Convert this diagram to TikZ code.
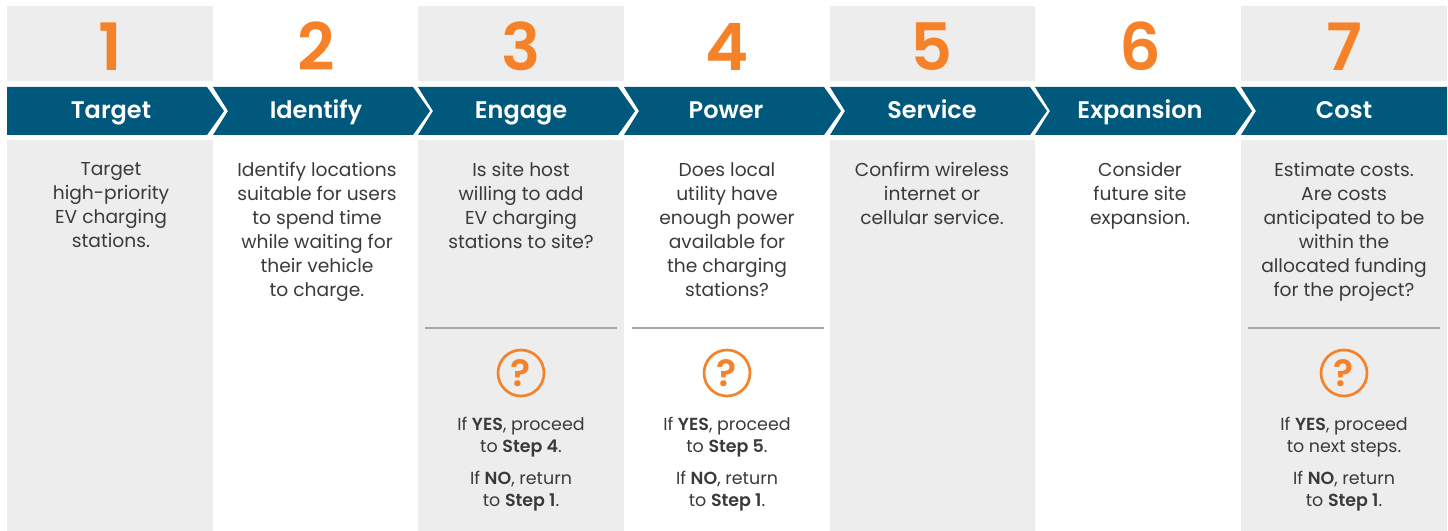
\documentclass[tikz,border=0pt]{standalone}
\usepackage{fontspec}
\setmainfont{Poppins}[BoldFont={Poppins SemiBold}]
\definecolor{PanelGray}{HTML}{EDEDED}
\definecolor{BarBlue}{HTML}{00587C}
\definecolor{StepOrange}{HTML}{F58229}
\definecolor{BodyInk}{HTML}{3A3A3A}
\definecolor{RuleGray}{HTML}{A6A6A6}

\begin{document}
\begin{tikzpicture}[x=0.75pt,y=-0.75pt,
    num/.style={text=StepOrange,font=\fontsize{49}{49}\selectfont\bfseries,inner sep=0pt,anchor=base},
    title/.style={text=white,font=\fontsize{18}{20}\selectfont\bfseries,inner sep=0pt,anchor=base},
    body/.style={text=BodyInk,font=\fontsize{14}{18}\selectfont,align=center,anchor=north,inner sep=0pt},
    answer/.style={text=BodyInk,font=\fontsize{13.1}{16.5}\selectfont,align=center,anchor=north,inner sep=0pt},
    quest/.style={circle,draw=StepOrange,line width=2pt,minimum size=34.5pt,inner sep=0pt,
      text=StepOrange,font=\fontsize{28}{28}\selectfont\bfseries},
    rule/.style={draw=RuleGray,line width=1pt}]
  \useasboundingbox (0,0) rectangle (1448,531);

  % Gray panels, top row and lower row
  \fill[PanelGray] (7,6) rectangle (213,81);
  \fill[PanelGray] (7,140) rectangle (213,531);
  \fill[PanelGray] (418,6) rectangle (624,81);
  \fill[PanelGray] (418,140) rectangle (624,531);
  \fill[PanelGray] (830,6) rectangle (1035,81);
  \fill[PanelGray] (830,140) rectangle (1035,531);
  \fill[PanelGray] (1241,6) rectangle (1447,81);
  \fill[PanelGray] (1241,140) rectangle (1447,531);

  % Chevron bar
  \fill[BarBlue] (7,87) -- (207,87) -- (224,111) -- (207,135) -- (7,135) -- cycle;
  \fill[BarBlue] (213,87) -- (413,87) -- (430,111) -- (413,135) -- (213,135) -- (228,111) -- cycle;
  \fill[BarBlue] (418,87) -- (618,87) -- (635,111) -- (618,135) -- (418,135) -- (433,111) -- cycle;
  \fill[BarBlue] (624,87) -- (824,87) -- (841,111) -- (824,135) -- (624,135) -- (639,111) -- cycle;
  \fill[BarBlue] (830,87) -- (1030,87) -- (1047,111) -- (1030,135) -- (830,135) -- (845,111) -- cycle;
  \fill[BarBlue] (1035,87) -- (1235,87) -- (1252,111) -- (1235,135) -- (1035,135) -- (1050,111) -- cycle;
  \fill[BarBlue] (1241,87) -- (1447,87) -- (1447,135) -- (1241,135) -- (1256,111) -- cycle;

  % Step numbers
  \node[num] (num1) at (110,70.5) {1};
  \node[num] (num2) at (316,70.5) {2};
  \node[num] (num3) at (521,70.5) {3};
  \node[num] (num4) at (727,70.5) {4};
  \node[num] (num5) at (932,70.5) {5};
  \node[num] (num6) at (1140,70.5) {6};
  \node[num] (num7) at (1344,70.5) {7};

  % Step titles
  \node[title] (title1) at (111,118.5) {Target};
  \node[title] (title2) at (316,118.5) {Identify};
  \node[title] (title3) at (521,118.5) {Engage};
  \node[title] (title4) at (726,118.5) {Power};
  \node[title] (title5) at (932,118.5) {Service};
  \node[title] (title6) at (1140,118.5) {Expansion};
  \node[title] (title7) at (1344,118.5) {Cost};

  % Step descriptions
  \node[body] (body1) at (111,162) {Target\\high-priority\\EV charging\\stations.};
  \node[body] (body2) at (317,162) {Identify locations\\suitable for users\\to spend time\\while waiting for\\their vehicle\\to charge.};
  \node[body] (body3) at (521,162) {Is site host\\willing to add\\EV charging\\stations to site?};
  \node[body] (body4) at (727,162) {Does local\\utility have\\enough power\\available for\\the charging\\stations?};
  \node[body] (body5) at (932,162) {Confirm wireless\\internet or\\cellular service.};
  \node[body] (body6) at (1140,162) {Consider\\future site\\expansion.};
  \node[body] (body7) at (1344,162) {Estimate costs.\\Are costs\\anticipated to be\\within the\\allocated funding\\for the project?};

  % Dividers
  \draw[rule] (425,328) -- (617,328);
  \draw[rule] (632,328) -- (824,328);
  \draw[rule] (1248,328) -- (1440,328);

  % Question marks
  \node[quest] (quest3) at (521,373) {?};
  \node[quest] (quest4) at (727,373) {?};
  \node[quest] (quest7) at (1344,373) {?};

  % Yes and no answers
  \node[answer] (yes3) at (521,417) {If \textbf{YES}, proceed\\to \textbf{Step 4}.};
  \node[answer] (no3) at (521,471) {If \textbf{NO}, return\\to \textbf{Step 1}.};
  \node[answer] (yes4) at (727,417) {If \textbf{YES}, proceed\\to \textbf{Step 5}.};
  \node[answer] (no4) at (727,471) {If \textbf{NO}, return\\to \textbf{Step 1}.};
  \node[answer] (yes7) at (1344,417) {If \textbf{YES}, proceed\\to next steps.};
  \node[answer] (no7) at (1344,471) {If \textbf{NO}, return\\to \textbf{Step 1}.};
\end{tikzpicture}
\end{document}
